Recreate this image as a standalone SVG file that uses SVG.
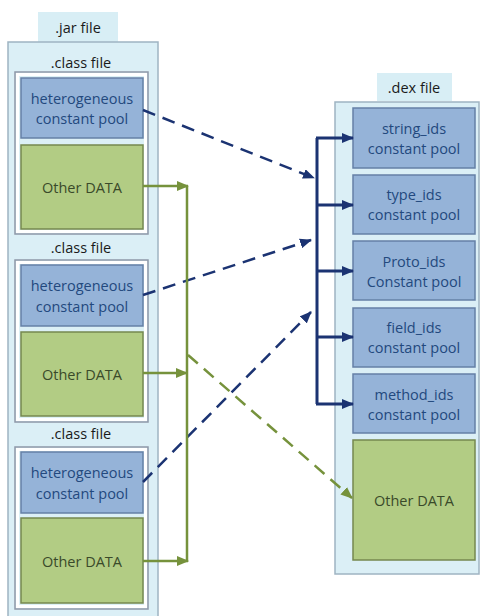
<svg xmlns="http://www.w3.org/2000/svg" width="482" height="616" viewBox="0 0 482 616">
<style>
.lbl{fill:#d8eef5;}
.outer{fill:#dbeff6;stroke:#9fb4c2;stroke-width:1.5;}
.cls{fill:#dcf0f6;stroke:#8f98a8;stroke-width:1.5;}
.clsin{fill:none;stroke:#ffffff;stroke-width:3;}
.blue{fill:#95b3d8;stroke:#6580a6;stroke-width:1.5;}
.green{fill:#b2cc84;stroke:#76884f;stroke-width:1.5;}
text{font-family:"Open Sans","Liberation Sans",Arial,sans-serif;font-size:14.5px;text-anchor:middle;dominant-baseline:central;}
.tb{fill:#23497e;}
.tg{fill:#3a4a2a;}
.tk{fill:#1a1a1a;}
.navy{stroke:#1b3372;stroke-width:3;fill:none;}
.navyd{stroke:#1b3372;stroke-width:2.5;fill:none;stroke-dasharray:13 8;}
.grn{stroke:#76923c;stroke-width:2.5;fill:none;}
.grnd{stroke:#76923c;stroke-width:2.5;fill:none;stroke-dasharray:13 8;}
</style>
<defs>
<marker id="an" markerUnits="userSpaceOnUse" markerWidth="12" markerHeight="10" refX="11" refY="5" orient="auto"><path d="M0,0 L12,5 L0,10 z" fill="#1b3372"/></marker>
<marker id="ag" markerUnits="userSpaceOnUse" markerWidth="12" markerHeight="10" refX="11" refY="5" orient="auto"><path d="M0,0 L12,5 L0,10 z" fill="#76923c"/></marker>
</defs>
<g id="jar">
<rect class="lbl" x="38" y="12" width="80" height="30"/>
<text class="tk" x="78" y="27">.jar file</text>
<rect class="outer" x="8" y="42" width="150" height="590"/>
</g>
<g id="class1">
<text class="tk" x="81" y="62">.class file</text>
<rect class="cls" x="15" y="72" width="133" height="162"/>
<rect class="clsin" x="17.5" y="74.5" width="128" height="157"/>
</g>
<g id="hcp1">
<rect class="blue" x="21" y="78" width="122" height="60"/>
<text class="tb" x="82" y="98">heterogeneous</text>
<text class="tb" x="82" y="118">constant pool</text>
</g>
<g id="od1">
<rect class="green" x="21" y="145" width="122" height="84"/>
<text class="tg" x="82" y="187">Other DATA</text>
</g>
<g id="class2">
<text class="tk" x="81" y="247">.class file</text>
<rect class="cls" x="15" y="260" width="133" height="162"/>
<rect class="clsin" x="17.5" y="262.5" width="128" height="157"/>
</g>
<g id="hcp2">
<rect class="blue" x="21" y="265" width="122" height="61"/>
<text class="tb" x="82" y="285">heterogeneous</text>
<text class="tb" x="82" y="306">constant pool</text>
</g>
<g id="od2">
<rect class="green" x="21" y="332" width="122" height="84"/>
<text class="tg" x="82" y="374">Other DATA</text>
</g>
<g id="class3">
<text class="tk" x="81" y="433">.class file</text>
<rect class="cls" x="15" y="447" width="133" height="162"/>
<rect class="clsin" x="17.5" y="449.5" width="128" height="157"/>
</g>
<g id="hcp3">
<rect class="blue" x="21" y="452" width="122" height="61"/>
<text class="tb" x="82" y="472">heterogeneous</text>
<text class="tb" x="82" y="493">constant pool</text>
</g>
<g id="od3">
<rect class="green" x="21" y="518" width="122" height="85"/>
<text class="tg" x="82" y="561">Other DATA</text>
</g>
<g id="dex">
<rect class="lbl" x="377" y="73" width="75" height="28"/>
<text class="tk" x="414" y="87">.dex file</text>
<rect class="outer" x="335" y="102" width="144" height="472"/>
</g>
<g id="string_ids">
<rect class="blue" x="353" y="108" width="122" height="60"/>
<text class="tb" x="414" y="128">string_ids</text>
<text class="tb" x="414" y="148">constant pool</text>
</g>
<g id="type_ids">
<rect class="blue" x="353" y="175" width="122" height="59"/>
<text class="tb" x="414" y="194">type_ids</text>
<text class="tb" x="414" y="214">constant pool</text>
</g>
<g id="proto_ids">
<rect class="blue" x="353" y="241" width="122" height="59"/>
<text class="tb" x="414" y="261">Proto_ids</text>
<text class="tb" x="414" y="281">Constant pool</text>
</g>
<g id="field_ids">
<rect class="blue" x="353" y="308" width="122" height="59"/>
<text class="tb" x="414" y="327">field_ids</text>
<text class="tb" x="414" y="347">constant pool</text>
</g>
<g id="method_ids">
<rect class="blue" x="353" y="374" width="122" height="59"/>
<text class="tb" x="414" y="394">method_ids</text>
<text class="tb" x="414" y="414">constant pool</text>
</g>
<g id="dex_od">
<rect class="green" x="353" y="440" width="122" height="120"/>
<text class="tg" x="414" y="500">Other DATA</text>
</g>
<g id="connectors">
<path class="navy" d="M317,138 V404"/>
<path class="navy" d="M316,138 H353" marker-end="url(#an)"/>
<path class="navy" d="M317,205 H353" marker-end="url(#an)"/>
<path class="navy" d="M317,271 H353" marker-end="url(#an)"/>
<path class="navy" d="M317,337 H353" marker-end="url(#an)"/>
<path class="navy" d="M316,404 H353" marker-end="url(#an)"/>
<path class="navyd" d="M143,110 L314,178" marker-end="url(#an)"/>
<path class="navyd" d="M143,295 L311,240" marker-end="url(#an)"/>
<path class="navyd" d="M143,482 L311,312" marker-end="url(#an)"/>
<path class="grn" d="M187,186 V562"/>
<path class="grn" d="M143,186 H188" marker-end="url(#ag)"/>
<path class="grn" d="M143,373 H187" marker-end="url(#ag)"/>
<path class="grn" d="M143,561 H188" marker-end="url(#ag)"/>
<path class="grnd" d="M188,355 L352,498" marker-end="url(#ag)"/>
</g>
</svg>
